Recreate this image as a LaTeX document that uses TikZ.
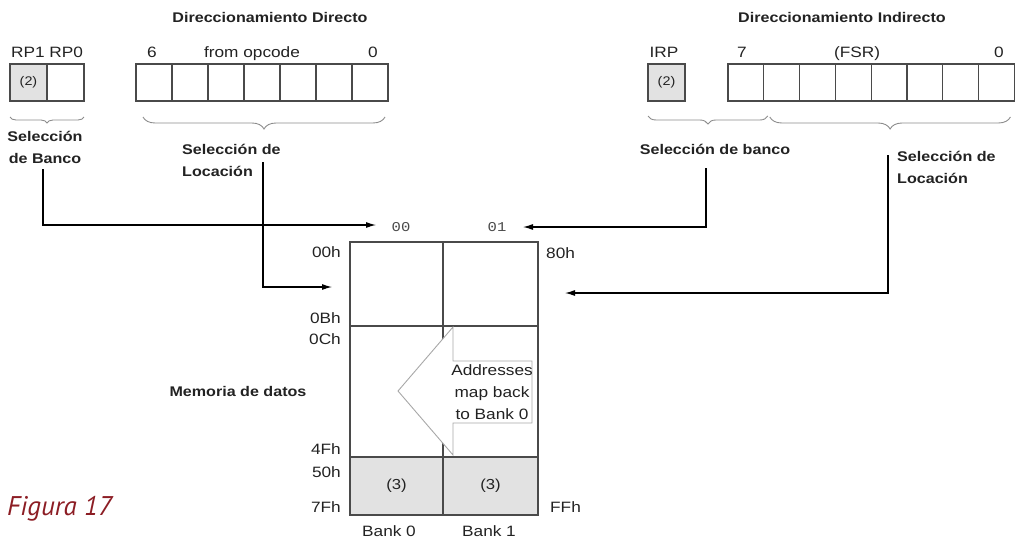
\documentclass[tikz,border=0pt]{standalone}
\usepackage{fontspec}
\setmainfont[FakeStretch=1.15]{Liberation Sans}
\setmonofont[FakeStretch=1.15]{Liberation Mono}
\newfontfamily\figfont{PT Sans}
\usepackage{tikz}
\usetikzlibrary{positioning, arrows.meta, calc, decorations.pathreplacing}
\definecolor{cellgray}{HTML}{E2E2E2}
\definecolor{linegray}{HTML}{4A4A4A}
\definecolor{bracegray}{HTML}{8C8C8C}
\definecolor{arrowgray}{HTML}{A8A8A8}
\definecolor{figred}{HTML}{8C1D24}
\definecolor{inkgray}{HTML}{222222}

\begin{document}
\begin{tikzpicture}[x=1pt, y=-1pt,
    titletxt/.style={inner sep=0pt, text=inkgray, font=\fontsize{14}{22}\selectfont\bfseries},
    seltxt/.style={inner sep=0pt, text=inkgray, font=\fontsize{14}{22}\selectfont\bfseries},
    labeltxt/.style={inner sep=0pt, text=inkgray, font=\fontsize{15}{22}\selectfont},
    bitcell/.style={draw=linegray, line width=1.2pt, minimum width=36pt, minimum height=37pt,
      inner sep=0pt, outer sep=0pt, anchor=north west, text=inkgray, font=\fontsize{12.5}{14}\selectfont},
    memcell/.style={draw=linegray, line width=1.2pt, inner sep=0pt, outer sep=0pt,
      anchor=north west, text=inkgray, font=\fontsize{14.5}{17}\selectfont},
    curly/.style={decorate, draw=bracegray, line width=0.9pt},
    link/.style={draw=black, line width=1.1pt, -{Latex[length=10pt, width=6pt]}}]
  \useasboundingbox (0,0) rectangle (1016,541);

  % titles
  \node[titletxt, anchor=base] (tdirect) at (270,22) {Direccionamiento Directo};
  \node[titletxt, anchor=base] (tindirect) at (842,22) {Direccionamiento Indirecto};

  % direct addressing: bank bits and opcode bits
  \node[labeltxt, anchor=base] (hrp) at (47,57) {RP1 RP0};
  \node[bitcell, fill=cellgray, minimum width=37pt] (rp1) at (10,64) {(2)};
  \node[bitcell, minimum width=37pt] (rp0) at (47,64) {};
  \node[labeltxt, anchor=base] (hsix) at (152,57) {6};
  \node[labeltxt, anchor=base] (hopcode) at (252,57) {from opcode};
  \node[labeltxt, anchor=base] (hzero) at (373,57) {0};
  \foreach \i in {0,...,6}
    \node[bitcell] (d\i) at ({136+36*\i},64) {};

  % indirect addressing: IRP and FSR
  \node[labeltxt, anchor=base] (hirp) at (664,57) {IRP};
  \node[bitcell, fill=cellgray, minimum width=37pt] (irp) at (648,64) {(2)};
  \node[labeltxt, anchor=base] (hseven) at (742,57) {7};
  \node[labeltxt, anchor=base] (hfsr) at (857,57) {(FSR)};
  \node[labeltxt, anchor=base] (hzero2) at (999,57) {0};
  \foreach \i in {0,...,7}
    \node[bitcell, minimum width=35.8pt] (f\i) at ({728+35.8*\i},64) {};

  % braces
  \draw[curly, decoration={brace, mirror, amplitude=6pt}]
    ([yshift=-16pt]rp1.south west) -- ([yshift=-16pt]rp0.south east);
  \draw[curly, decoration={brace, mirror, amplitude=12pt}]
    ([xshift=7pt, yshift=-16pt]d0.south west) -- ([xshift=-3pt, yshift=-16pt]d6.south east);
  \draw[curly, decoration={brace, mirror, amplitude=8pt}]
    ([yshift=-15pt]irp.south west) -- ([xshift=4pt, yshift=-15pt]f0.south east);
  \draw[curly, decoration={brace, mirror, amplitude=12pt}]
    ([xshift=6pt, yshift=-16pt]f1.south west) -- ([xshift=-4pt, yshift=-16pt]f7.south east);

  % selection labels
  \node[seltxt, align=center] (selbank) at (45,147) {Selección\\de Banco};
  \node[seltxt, align=left, anchor=north west] (selloc) at (182,144) {Selección de\\Locación};
  \node[seltxt] (selbank2) at (715,149) {Selección de banco};
  \node[seltxt, align=left, anchor=north west] (selloc2) at (897,151) {Selección de\\Locación};

  % data memory
  \node[memcell, minimum width=93pt, minimum height=84pt] (b0top) at (350,242) {};
  \node[memcell, minimum width=95pt, minimum height=84pt] (b1top) at (443,242) {};
  \node[memcell, minimum width=93pt, minimum height=131pt] (b0mid) at (350,326) {};
  \node[memcell, minimum width=95pt, minimum height=131pt] (b1mid) at (443,326) {};
  \node[memcell, fill=cellgray, minimum width=93pt, minimum height=58pt] (b0low) at (350,457) {(3)};
  \node[memcell, fill=cellgray, minimum width=95pt, minimum height=58pt] (b1low) at (443,457) {(3)};

  % mirrored area arrow
  \draw[draw=arrowgray, fill=white, line width=0.9pt]
    (398,391) -- (453,327) -- (453,361) -- (532,361) -- (532,423) -- (453,423) -- (453,455) -- cycle;
  \node[labeltxt, align=center] (mapnote) at (492,392) {Addresses\\map back\\to Bank 0};

  % address labels
  \node[labeltxt, anchor=east] (a00) at (341,252) {00h};
  \node[labeltxt, anchor=east] (a0b) at (341,318) {0Bh};
  \node[labeltxt, anchor=east] (a0c) at (341,339) {0Ch};
  \node[labeltxt, anchor=east] (a4f) at (341,449) {4Fh};
  \node[labeltxt, anchor=east] (a50) at (341,472) {50h};
  \node[labeltxt, anchor=east] (a7f) at (341,507) {7Fh};
  \node[labeltxt, anchor=west] (a80) at (546,253) {80h};
  \node[labeltxt, anchor=west] (aff) at (550,507) {FFh};
  \node[labeltxt] (bank0) at (389,531) {Bank 0};
  \node[labeltxt] (bank1) at (489,531) {Bank 1};
  \node[inner sep=0pt, text=linegray, font=\fontsize{13.5}{15}\ttfamily] (sel00) at (401,227) {00};
  \node[inner sep=0pt, text=linegray, font=\fontsize{13.5}{15}\ttfamily] (sel01) at (497,227) {01};
  \node[seltxt] (memdata) at (238,391) {Memoria de datos};

  % connectors
  \coordinate (in00) at (376,225);
  \coordinate (inloc) at (332,287);
  \coordinate (in01) at (523,227);
  \coordinate (inloc2) at (565,293);
  \draw[link] ([xshift=-2pt, yshift=-6pt]selbank.south) |- (in00);
  \draw[link] ($(selloc.north west)+(81,18)$) |- (inloc);
  \draw[link] ([xshift=-9pt, yshift=-14pt]selbank2.south) |- (in01);
  \draw[link] ($(selloc2.north west)+(-9,4)$) |- (inloc2);

  \node[inner sep=0pt, anchor=base west, text=figred, font=\figfont\itshape\fontsize{27}{30}\selectfont] (figlabel) at (7,515) {Figura 17};
\end{tikzpicture}
\end{document}
